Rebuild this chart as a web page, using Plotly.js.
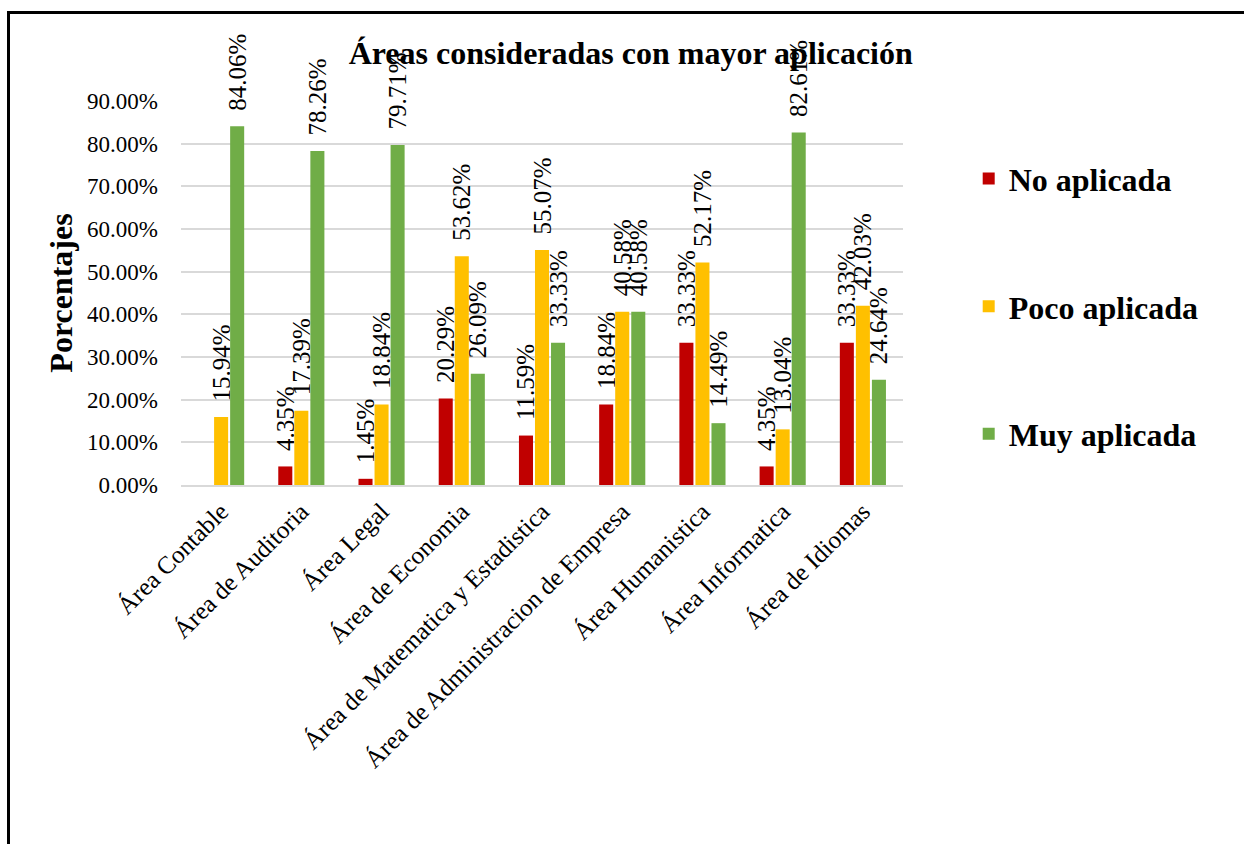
<!DOCTYPE html>
<html>
<head>
<meta charset="utf-8">
<script src="https://cdn.plot.ly/plotly-3.0.1.min.js"></script>
<style>
  html, body { margin: 0; padding: 0; background: #fff; overflow: hidden; }
  #wrap { position: relative; width: 1244px; height: 844px; }
  #chart { position: absolute; left: 0; top: 0; width: 1244px; height: 844px; }
  #frame { position: absolute; left: 7px; top: 11px; width: 1400px; height: 1000px;
           border-left: 3px solid #000; border-top: 3px solid #000; pointer-events: none; }
</style>
</head>
<body>
<div id="wrap">
  <div id="chart"></div>
  <div id="frame"></div>
</div>
<script>
const categories = [
  "Área Contable",
  "Área de Auditoria",
  "Área Legal",
  "Área de Economia",
  "Área de Matematica y Estadistica",
  "Área de Administracion de Empresa",
  "Área Humanistica",
  "Área Informatica",
  "Área de Idiomas"
];
const noAplicada   = [0.0000, 0.0435, 0.0145, 0.2029, 0.1159, 0.1884, 0.3333, 0.0435, 0.3333];
const pocoAplicada = [0.1594, 0.1739, 0.1884, 0.5362, 0.5507, 0.4058, 0.5217, 0.1304, 0.4203];
const muyAplicada  = [0.8406, 0.7826, 0.7971, 0.2609, 0.3333, 0.4058, 0.1449, 0.8261, 0.2464];
const seriesNames  = ["No aplicada", "Poco aplicada", "Muy aplicada"];
const seriesColors = ["#C00000", "#FFC000", "#70AD47"];
const tickValues   = [0, 0.1, 0.2, 0.3, 0.4, 0.5, 0.6, 0.7, 0.8, 0.9];

const FONT = "Liberation Serif";

function labels(vals) {
  return vals.map(v => v === 0 ? "" : "\u00a0\u00a0" + (v * 100).toFixed(2) + "%");
}

const labelFont = { family: FONT, size: 25, color: "#000" };
const allSeries = [noAplicada, pocoAplicada, muyAplicada];
const traces = allSeries.map((vals, i) => ({
  type: "bar",
  name: seriesNames[i],
  x: categories,
  y: vals,
  text: labels(vals),
  textposition: "outside",
  textangle: -90,
  constraintext: "none",
  cliponaxis: false,
  textfont: labelFont,
  outsidetextfont: labelFont,
  insidetextfont: labelFont,
  marker: { color: seriesColors[i] },
  legendgroup: "g" + i,
  hoverinfo: "x+y"
}));

const layout = {
  width: 1244,
  height: 844,
  font: { family: FONT, color: "#000" },
  paper_bgcolor: "#fff",
  plot_bgcolor: "#fff",
  margin: { l: 181, r: 341, t: 101, b: 359 },
  title: {
    text: "<b>Áreas consideradas con mayor aplicación</b>",
    font: { family: FONT, size: 32, color: "#000" },
    x: 0.507, xanchor: "center", xref: "container",
    y: 0.938, yanchor: "middle", yref: "container"
  },
  barmode: "group",
  bargap: 0.4,
  bargroupgap: 0.125,
  xaxis: {
    type: "category",
    tickangle: -45,
    tickfont: { family: FONT, size: 25, color: "#000" },
    showline: true,
    linecolor: "#d9d9d9",
    linewidth: 2,
    ticks: "",
    showgrid: false
  },
  yaxis: {
    range: [0, 0.9],
    tickvals: tickValues,
    tickformat: ".2%",
    tickfont: { family: FONT, size: 23, color: "#000" },
    gridcolor: "#d9d9d9",
    gridwidth: 2,
    zeroline: false,
    showline: false,
    ticks: "",
    ticklabelstandoff: 22,
    title: {
      text: "<b>Porcentajes</b>",
      font: { family: FONT, size: 32, color: "#000" },
      standoff: 4
    }
  },
  showlegend: true,
  legend: {
    x: 1.091, xanchor: "left",
    y: 0.869, yanchor: "top",
    traceorder: "grouped",
    tracegroupgap: 83,
    font: { family: FONT, size: 32, color: "#000", weight: "bold" },
    bgcolor: "rgba(0,0,0,0)"
  }
};

Plotly.newPlot("chart", traces, layout, { displayModeBar: false, staticPlot: true });
</script>
</body>
</html>
